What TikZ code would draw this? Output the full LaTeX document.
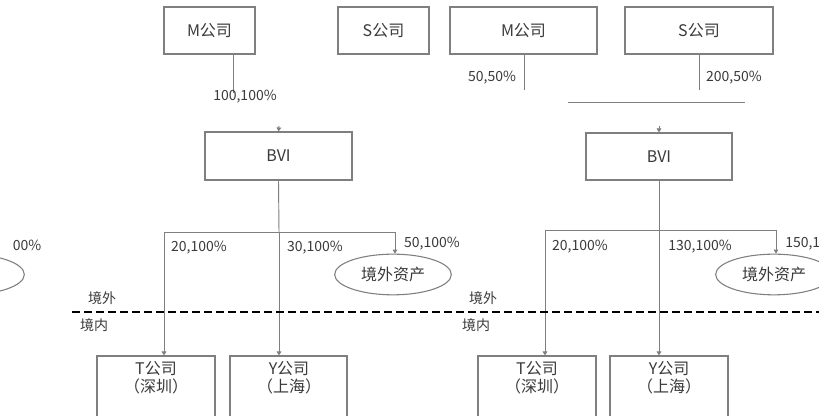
\documentclass[tikz,border=0pt]{standalone}
\usepackage{fontspec}
\setmainfont{Noto Sans CJK SC}
\usetikzlibrary{arrows.meta,shapes.geometric,fit}
\definecolor{linegray}{HTML}{7F7F7F}
\definecolor{textgray}{HTML}{3A3A3A}
\begin{document}
\begin{tikzpicture}[x=0.75pt,y=-0.75pt,
  box/.style={draw=linegray,line width=0.8pt,inner sep=0pt,text=textgray,font=\fontsize{12}{13}\selectfont},
  oval/.style={ellipse,draw=linegray,line width=0.8pt,inner sep=0pt,minimum width=87.5pt,minimum height=30.5pt,text=textgray,font=\fontsize{12}{13}\selectfont},
  pct/.style={text=textgray,inner sep=0pt,font=\fontsize{10.5}{12}\selectfont},
  zone/.style={text=textgray,inner sep=0pt,font=\fontsize{10.5}{12}\selectfont},
  btext/.style={text=textgray,font=\fontsize{12}{13.5}\selectfont,align=center,anchor=north,inner sep=0pt},
  conn/.style={draw=linegray,line width=0.7pt},
  arr/.style={conn,-{Triangle[width=3.5pt,length=3pt]}},
  border/.style={draw=black,line width=1pt,dash pattern=on 6pt off 3pt}]
\useasboundingbox (0,0) rectangle (819,416);
\clip (0,0) rectangle (819,416);
\fill[white] (0,0) rectangle (819,416);

% ---------- left diagram ----------
\node[box,minimum width=68.25pt,minimum height=35.25pt] (mL) at (209.5,30.5) {M公司};
\node[box,minimum width=68.25pt,minimum height=35.25pt] (sL) at (383.5,30.5) {S公司};
\node[box,minimum width=110.25pt,minimum height=36pt] (bviL) at (278.5,156) {BVI};
\coordinate (mLend) at (233,93);
\draw[conn] (mL.south -| mLend) -- (mLend);
\node[pct] (pmL) at (245,97) {100,100\%};
\coordinate (bviLin) at (279,126);
\draw[arr] (bviLin) -- (bviL.north);
\coordinate (hL1) at (164,232);
\coordinate (hL2) at (279,232);
\coordinate (hL3) at (395,232);
\draw[conn] (bviL.south) -- (hL2);
\draw[conn] (hL1) -- (hL3);
\node[box,fit={(97,356) (215,440)}] (tL) {};
\node[box,fit={(230,356) (347,440)}] (yL) {};
\node[btext] (tLt) at (156,361) {T公司\\（深圳）};
\node[btext] (yLt) at (289,361) {Y公司\\（上海）};
\node[oval] (oL) at (393,274.5) {境外资产};
\draw[arr] (hL1) -- (tL.north -| hL1);
\draw[arr] (hL2) -- (yL.north -| hL2);
\draw[arr] (hL3) -- (oL.north -| hL3);
\node[pct] (p1L) at (199,248) {20,100\%};
\node[pct] (p2L) at (315,248) {30,100\%};
\node[pct] (p3L) at (432,244) {50,100\%};
% fragment at left edge
\node[oval] (oX) at (-34,274.5) {};
\node[pct] (pX) at (27,245) {00\%};

% ---------- right diagram ----------
\node[box,minimum width=110.25pt,minimum height=35.25pt] (mR) at (523.5,30.5) {M公司};
\node[box,minimum width=111pt,minimum height=35.25pt] (sR) at (699,30.5) {S公司};
\node[box,minimum width=109.5pt,minimum height=35.25pt] (bviR) at (659,156.5) {BVI};
\coordinate (mRend) at (524,90);
\coordinate (sRend) at (699,90);
\draw[conn] (mR.south -| mRend) -- (mRend);
\draw[conn] (sR.south -| sRend) -- (sRend);
\node[pct] (pmR) at (492,78) {50,50\%};
\node[pct] (psR) at (734,78) {200,50\%};
\coordinate (jR1) at (568,102);
\coordinate (jR2) at (745,102);
\draw[conn] (jR1) -- (jR2);
\coordinate (bviRin) at (659,126);
\draw[arr] (bviRin) -- (bviR.north);
\coordinate (hR1) at (545,230);
\coordinate (hR2) at (659,230);
\coordinate (hR3) at (776,230);
\draw[conn] (bviR.south) -- (hR2);
\draw[conn] (hR1) -- (hR3);
\node[box,fit={(478,356) (596,440)}] (tR) {};
\node[box,fit={(610,356) (728,440)}] (yR) {};
\node[btext] (tRt) at (537,361) {T公司\\（深圳）};
\node[btext] (yRt) at (669,361) {Y公司\\（上海）};
\node[oval] (oR) at (774,274.5) {境外资产};
\draw[arr] (hR1) -- (tR.north -| hR1);
\draw[arr] (hR2) -- (yR.north -| hR2);
\draw[arr] (hR3) -- (oR.north -| hR3);
\node[pct] (p1R) at (580,247) {20,100\%};
\node[pct] (p2R) at (700,247) {130,100\%};
\node[pct,anchor=west] (p3R) at (785,244) {150,1};

% ---------- border ----------
\coordinate (bd1) at (72,312);
\coordinate (bd2) at (819,312);
\draw[border] (bd1) -- (bd2);
\node[zone] (wL) at (102,298) {境外};
\node[zone] (nL) at (94,325) {境内};
\node[zone] (wR) at (483,298) {境外};
\node[zone] (nR) at (476,325) {境内};
\end{tikzpicture}
\end{document}
